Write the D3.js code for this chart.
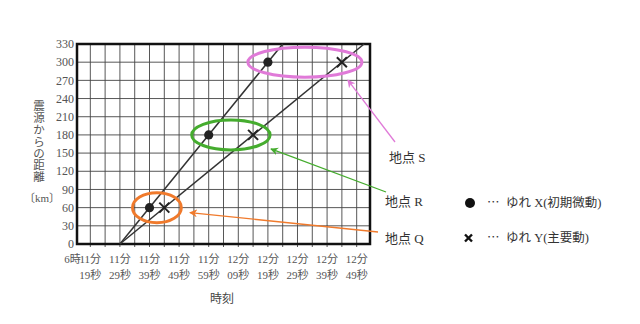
<!DOCTYPE html>
<html><head><meta charset="utf-8">
<script src="https://cdn.jsdelivr.net/npm/d3@7/dist/d3.min.js"></script>
<style>
html,body{margin:0;padding:0;background:#fff;}
svg{display:block;}
text{font-family:"Liberation Serif","Noto Sans CJK JP",serif;}
</style></head>
<body>
<svg id="c" width="640" height="324"></svg>
<script>
// ---- data ----
const originSec = 29;                        // 6時11分29秒 (seconds after 6:11:00)
const stations = ["Q", "R", "S"];
const distances = [60, 180, 300];            // km
const arrivalX = [39, 59, 79];               // ゆれX arrival (s after 6:11:00)
const arrivalY = [44, 74, 104];              // ゆれY arrival
const xTickSec = [19, 29, 39, 49, 59, 69, 79, 89, 99, 109];
const xTickMin = ["11分","11分","11分","11分","11分","12分","12分","12分","12分","12分"];
const xTickSecLbl = ["19秒","29秒","39秒","49秒","59秒","09秒","19秒","29秒","39秒","49秒"];
const yTicks = [0,30,60,90,120,150,180,210,240,270,300,330];
const ellipseColors = ["#f07a2c", "#45ac2e", "#e07ad8"];

// ---- layout ----
const svg = d3.select("#c");
const L = 77, R = 370, T = 44, B = 244;
const x = d3.scaleLinear().domain([14.5, 113.5]).range([L, R]);
const y = d3.scaleLinear().domain([0, 330]).range([B, T]);
const gridSec = d3.range(19, 110, 5);

// grid
svg.append("g").selectAll("line").data(gridSec).join("line")
  .attr("x1", d => x(d)).attr("x2", d => x(d)).attr("y1", T).attr("y2", B + 3)
  .attr("stroke", "#444").attr("stroke-width", 0.9);
svg.append("g").selectAll("line").data(yTicks.filter(d => d > 0 && d < 330)).join("line")
  .attr("x1", L).attr("x2", R).attr("y1", d => y(d)).attr("y2", d => y(d))
  .attr("stroke", "#444").attr("stroke-width", 0.9);
// frame
svg.append("rect").attr("x", L).attr("y", T).attr("width", R - L).attr("height", B - T)
  .attr("fill", "none").attr("stroke", "#111").attr("stroke-width", 2.5);

// y tick labels
svg.append("g").selectAll("text").data(yTicks).join("text")
  .attr("x", 74).attr("y", d => y(d)).attr("dy", "0.35em")
  .attr("text-anchor", "end").attr("font-size", 12).attr("fill", "#555")
  .text(d => d);

// x tick labels
const xl = svg.append("g").attr("fill", "#555").attr("font-size", 11);
xl.selectAll("text.m").data(xTickSec).join("text").attr("class", "m")
  .attr("x", d => x(d)).attr("y", 263).attr("text-anchor", "middle")
  .text((d, i) => xTickMin[i]);
xl.selectAll("text.s").data(xTickSec).join("text").attr("class", "s")
  .attr("x", d => x(d)).attr("y", 279).attr("text-anchor", "middle")
  .text((d, i) => xTickSecLbl[i]);
xl.append("text").attr("x", x(xTickSec[0]) - 9.5).attr("y", 263).attr("text-anchor", "end").text("6時");

// axis titles
svg.append("text").attr("x", 222).attr("y", 303).attr("text-anchor", "middle")
  .attr("font-size", 12).attr("fill", "#444").text("時刻");
const ytitle = "震源からの距離".split("");
svg.append("g").selectAll("text").data(ytitle).join("text")
  .attr("x", 39).attr("y", (d, i) => 106 + i * 11.8).attr("dy", "0.38em")
  .attr("text-anchor", "middle").attr("font-size", 11.5).attr("fill", "#555").text(d => d);
svg.append("text").attr("x", 42).attr("y", 198).attr("dy", "0.35em").attr("text-anchor", "middle")
  .attr("font-size", 11).attr("fill", "#555").text("〔km〕");

// wave lines (through origin and arrivals, extended to 330 km)
function lineEnd(arr) {
  const v = distances[0] / (arr[0] - originSec);
  return [originSec + 330 / v, 330];
}
[arrivalX, arrivalY].forEach(arr => {
  const e = lineEnd(arr);
  svg.append("line").attr("x1", x(originSec)).attr("y1", y(0))
    .attr("x2", x(e[0])).attr("y2", y(e[1]))
    .attr("stroke", "#333").attr("stroke-width", 1.5);
});

// ellipses
const ell = stations.map((s, i) => {
  const cx = (x(arrivalX[i]) + x(arrivalY[i])) / 2;
  const rx = (x(arrivalY[i]) - x(arrivalX[i])) / 2 + [17, 17, 20][i];
  return {cx, cy: y(distances[i]), rx, ry: 15, color: ellipseColors[i]};
});
svg.append("g").selectAll("ellipse").data(ell).join("ellipse")
  .attr("cx", d => d.cx).attr("cy", d => d.cy).attr("rx", d => d.rx).attr("ry", d => d.ry)
  .attr("fill", "none").attr("stroke", d => d.color).attr("stroke-width", 3);

// points
svg.append("g").selectAll("circle").data(stations).join("circle")
  .attr("cx", (d, i) => x(arrivalX[i])).attr("cy", (d, i) => y(distances[i]))
  .attr("r", 4.6).attr("fill", "#222");
const cs = 5;
svg.append("g").selectAll("path").data(stations).join("path")
  .attr("d", (d, i) => {
    const px = x(arrivalY[i]), py = y(distances[i]);
    return `M${px - cs},${py - cs}L${px + cs},${py + cs}M${px - cs},${py + cs}L${px + cs},${py - cs}`;
  })
  .attr("stroke", "#222").attr("stroke-width", 2).attr("fill", "none");

// arrows & station labels
const defs = svg.append("defs");
ellipseColors.forEach((c, i) => {
  defs.append("marker").attr("id", "ah" + i).attr("viewBox", "0 0 10 10")
    .attr("refX", 9).attr("refY", 5).attr("markerWidth", 8).attr("markerHeight", 8)
    .attr("markerUnits", "userSpaceOnUse").attr("orient", "auto")
    .append("path").attr("d", "M0,0L10,5L0,10L3,5Z").attr("fill", c);
});
const tipOff = [[33, 5], [40, 14], [43, 18]];
const tailPos = [[378, 232], [386, 192], [395, 142]];
const labelPos = [[385, 238], [385, 201], [389, 157]];
stations.forEach((s, i) => {
  svg.append("line")
    .attr("x1", tailPos[i][0]).attr("y1", tailPos[i][1])
    .attr("x2", ell[i].cx + tipOff[i][0]).attr("y2", ell[i].cy + tipOff[i][1])
    .attr("stroke", ellipseColors[i]).attr("stroke-width", 1.3)
    .attr("marker-end", `url(#ah${i})`);
  svg.append("text").attr("x", labelPos[i][0]).attr("y", labelPos[i][1]).attr("dy", "0.35em")
    .attr("font-size", 13).attr("fill", "#333").text("地点 " + s);
});

// legend
svg.append("circle").attr("cx", 470).attr("cy", 203).attr("r", 5).attr("fill", "#111");
svg.append("path").attr("d", "M465,234.5L472,241.5M465,241.5L472,234.5")
  .attr("stroke", "#111").attr("stroke-width", 2.4);
const lg = [["ゆれ X(初期微動)", 203], ["ゆれ Y(主要動)", 238]];
lg.forEach(([t, yy]) => {
  svg.append("text").attr("x", 487).attr("y", yy).attr("dy", "0.35em")
    .attr("font-size", 12.5).attr("fill", "#333").text("⋯");
  svg.append("text").attr("x", 506).attr("y", yy).attr("dy", "0.35em")
    .attr("font-size", 12.5).attr("fill", "#333").text(t);
});
</script>
</body></html>
